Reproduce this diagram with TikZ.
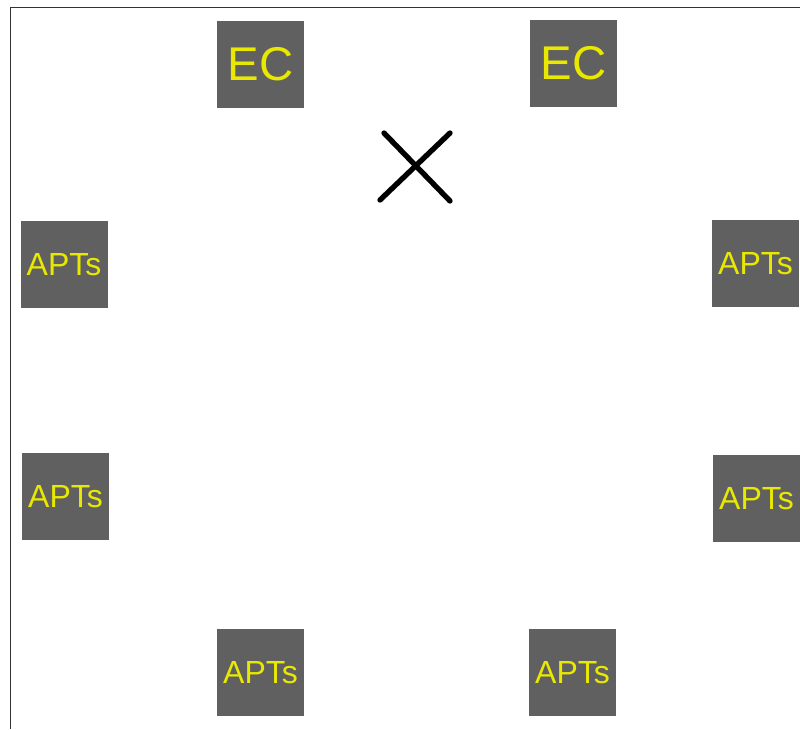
\documentclass[tikz,border=0pt]{standalone}
\usepackage{fontspec}
\setmainfont{Liberation Sans}
\usepackage{xcolor}
\usetikzlibrary{positioning}

\definecolor{boxgray}{HTML}{606060}
\definecolor{labelyellow}{HTML}{E8E800}

\begin{document}
\begin{tikzpicture}[
    x=0.75pt, y=-0.75pt,
    box/.style={rectangle, fill=boxgray, minimum width=65.25pt,
                minimum height=65.25pt, inner sep=0pt, text=labelyellow},
    ecbox/.style={box, font=\fontsize{35.5}{35.5}\selectfont},
    aptbox/.style={box, font=\fontsize{24}{24}\selectfont},
    cross/.style={line width=4pt, line cap=round}
]
\useasboundingbox (0,0) rectangle (800,729);
\draw[line width=1.1pt, black!80] (10.5,729) -- (10.5,7.5) -- (800,7.5);

\node[ecbox] (ecl) at (260.5,64.5) {EC};
\node[ecbox] (ecr) at (573.5,63.5) {EC};
\node[aptbox] (aptlt) at (64,264.5) {APTs};
\node[aptbox] (aptrt) at (755.5,263.5) {APTs};
\node[aptbox] (aptlm) at (65.5,496.5) {APTs};
\node[aptbox] (aptrm) at (756.5,498.5) {APTs};
\node[aptbox] (aptbl) at (260.5,672.5) {APTs};
\node[aptbox] (aptbr) at (572.5,672.5) {APTs};

% the cross
\coordinate (xa) at (380,200);
\coordinate (xb) at (450,133);
\coordinate (xc) at (384,133);
\coordinate (xd) at (450,201);
\draw[cross] (xa) -- (xb);
\draw[cross] (xc) -- (xd);
\end{tikzpicture}
\end{document}
